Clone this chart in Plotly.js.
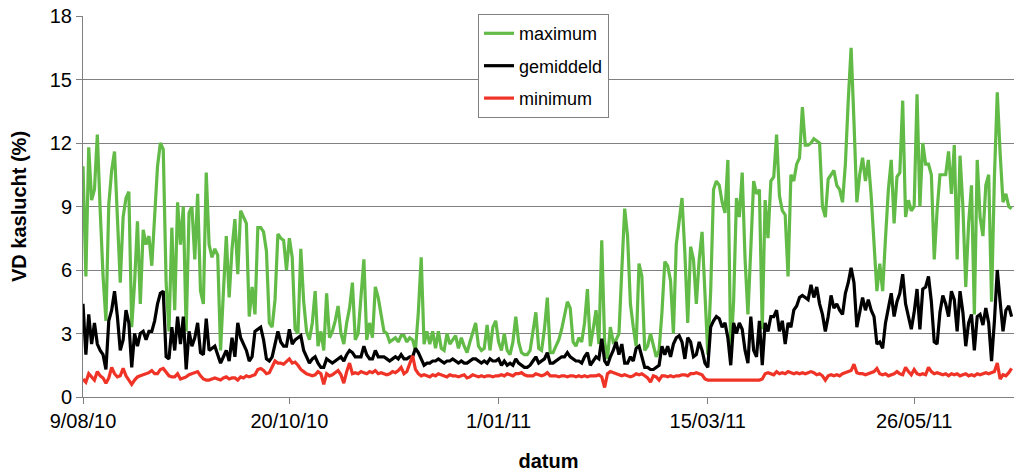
<!DOCTYPE html>
<html>
<head>
<meta charset="utf-8">
<script src="https://cdn.plot.ly/plotly-3.0.1.min.js"></script>
<style>
  html, body { margin: 0; padding: 0; background: #fff; }
  #chart { width: 1014px; height: 472px; }
</style>
</head>
<body>
<div id="chart"></div>
<script>
// ---- data (daily values from 9/08/10) ----
const startDate = [2010, 7, 9]; // year, month index, day

const maximum = [
  10.9,5.7,11.8,9.3,9.8,12.4,8.8,5.7,3.6,9.1,
  10.7,11.6,8.5,5.4,8.5,9.4,9.7,3.3,5.4,8.3,
  4.4,7.9,7.2,7.6,6.2,8.8,10.9,12.0,11.7,5.4,
  3.1,8.0,4.1,9.2,7.2,9.0,3.1,8.7,9.0,6.5,
  9.6,5.0,4.4,10.6,7.2,6.6,7.0,
  6.7,2.2,5.0,7.6,4.7,7.0,8.4,5.8,8.8,8.5,
  8.2,3.8,5.2,3.9,8.0,8.0,7.8,6.9,3.5,3.3,
  4.6,7.7,7.5,7.4,6.0,7.5,6.6,3.2,3.0,7.0,
  4.5,3.1,2.7,3.5,5.0,2.4,3.1,2.2,4.9,2.8,
  3.1,3.6,4.3,3.0,2.5,3.5,
  4.2,5.4,2.7,3.0,4.9,6.5,2.7,3.5,2.8,5.2,
  4.7,3.8,3.1,3.0,2.6,2.7,2.8,2.6,2.9,2.9,
  2.6,2.8,2.7,2.2,4.0,6.6,2.5,3.1,2.5,3.1,
  2.3,3.1,2.3,2.2,3.0,2.5,2.7,2.9,2.3,2.8,
  2.4,2.1,2.6,3.0,3.5,2.4,
  2.2,2.3,3.4,2.2,3.3,3.6,2.6,2.2,3.0,2.2,
  2.0,2.6,3.8,2.6,2.1,2.0,2.0,2.2,3.0,4.0,
  2.3,2.2,3.2,4.7,2.1,2.1,2.4,2.7,3.2,3.8,
  4.5,4.2,2.6,2.4,2.8,2.6,3.5,5.1,2.4,3.2,
  4.1,2.5,7.4,2.6,1.8,3.3,
  2.6,2.7,3.0,6.0,8.9,7.6,4.4,3.3,2.4,6.3,
  5.7,2.2,2.4,3.0,2.5,1.9,2.2,4.0,6.4,6.2,
  5.5,3.0,7.2,8.2,9.4,6.8,3.5,7.1,6.5,4.4,
  6.5,7.8,5.0,2.0,5.0,9.8,10.2,10.0,9.2,8.7,
  11.2,2.0,4.5,9.4,8.5,10.6,6.5,
  3.9,7.0,10.2,9.6,9.8,3.2,9.3,7.5,10.2,10.4,
  12.4,9.5,8.8,8.6,5.7,10.5,10.2,11.0,11.3,13.7,
  11.9,11.9,12.0,12.2,12.1,12.0,9.0,8.5,10.3,10.5,
  10.7,10.0,9.8,9.2,11.0,14.0,16.5,13.0,9.2,10.5,
  11.3,10.2,11.2,9.5,7.5,5.0,
  6.3,5.0,7.5,9.8,11.2,8.2,10.4,10.6,14.0,8.5,
  9.3,8.8,9.0,14.3,9.0,12.0,11.0,11.0,10.5,6.5,
  8.8,10.5,10.5,10.5,11.6,9.6,11.9,6.5,11.4,9.0,
  5.2,8.2,10.0,3.9,11.2,8.5,7.6,10.0,10.5,4.5,
  10.4,14.4,11.5,9.2,9.6,9.0,8.9
];

const gemiddeld = [
  4.4,2.0,3.9,2.5,3.5,2.5,2.2,2.0,1.3,3.6,
  4.1,5.0,3.8,2.2,2.7,4.1,3.5,1.4,3.0,2.4,
  3.0,3.1,2.7,3.1,3.1,3.6,4.4,4.9,5.0,1.9,
  1.8,3.3,2.2,3.8,2.5,3.8,1.3,3.1,2.4,2.8,
  3.5,2.1,2.0,3.7,2.2,2.3,2.4,
  2.0,1.6,1.9,2.2,1.7,2.8,1.9,3.5,2.8,2.5,
  2.2,1.7,1.9,3.1,3.2,3.3,2.7,1.8,1.7,1.9,
  2.5,3.1,2.6,2.4,2.4,3.2,2.5,2.7,2.8,2.9,
  2.2,1.9,1.6,1.8,1.9,1.6,1.4,1.4,1.8,1.7,
  1.6,1.7,1.8,1.9,1.7,2.0,
  2.2,2.1,1.9,1.9,1.9,2.4,2.0,1.8,1.8,2.2,
  1.9,1.9,1.9,1.8,1.7,1.8,1.9,1.8,2.0,1.8,
  1.8,1.9,1.9,2.3,2.1,1.8,1.5,1.6,1.6,1.7,
  1.7,1.8,1.7,1.6,1.7,1.7,1.8,1.7,1.6,1.7,
  1.6,1.6,1.7,1.8,1.8,1.7,
  1.6,1.7,1.6,1.8,1.7,1.7,1.8,1.5,1.7,1.5,
  1.6,1.5,1.8,1.6,1.5,1.4,1.4,1.5,1.7,1.9,
  1.6,1.7,1.8,2.1,1.6,1.6,1.7,1.8,1.9,1.9,
  2.1,1.9,1.8,1.7,1.7,1.6,1.9,2.1,1.5,1.7,
  1.9,1.8,2.75,1.7,1.5,1.9,
  2.2,2.6,2.0,2.5,1.6,1.6,1.9,1.7,2.3,2.4,
  1.9,1.4,1.4,1.3,1.3,1.4,1.5,2.4,2.0,2.4,
  1.9,2.5,2.8,2.9,2.6,1.8,2.8,2.6,1.9,2.0,
  2.6,2.2,1.6,1.4,3.3,3.6,3.8,3.7,3.3,3.5,
  2.8,1.5,3.5,3.0,3.5,3.2,2.2,
  1.6,3.8,2.2,1.9,3.6,1.5,3.5,
  3.1,3.8,3.8,4.1,3.1,3.6,2.5,3.5,3.3,4.1,
  4.3,4.7,4.8,4.7,4.6,5.3,4.7,5.2,4.4,3.9,
  3.1,3.8,4.8,4.2,4.4,4.1,3.9,4.9,5.4,6.1,
  5.4,3.3,4.1,4.7,4.1,4.6,4.1,3.8,2.5,
  2.6,2.3,3.5,4.2,4.9,3.8,4.5,4.9,5.8,4.4,
  3.8,3.2,4.0,5.1,3.2,5.1,5.2,5.7,4.5,2.6,
  2.5,4.0,4.8,4.4,3.8,5.0,4.6,3.1,5.0,4.0,
  2.4,3.5,3.9,2.2,3.8,3.9,3.4,4.2,3.5,1.7,
  3.6,6.0,4.5,3.1,4.1,4.3,3.8
];

const minimum = [
  0.85,0.7,1.1,0.95,0.8,1.2,1.0,0.9,0.65,0.9,
  1.4,1.1,0.95,1.0,1.35,1.0,0.8,0.6,0.8,0.95,
  1.0,1.05,1.1,1.15,1.25,1.1,1.1,1.3,1.35,1.2,
  1.0,0.95,0.95,1.1,0.85,0.9,0.95,1.05,1.1,1.15,
  1.2,1.0,0.85,0.8,0.8,0.85,0.9,
  0.85,0.8,0.9,0.95,0.85,0.9,0.9,0.8,0.95,0.9,
  1.0,0.95,1.0,1.05,1.3,1.35,1.25,1.1,1.15,1.4,
  1.7,1.6,1.6,1.55,1.7,1.8,1.6,1.65,1.5,1.3,
  1.2,1.1,1.05,1.0,1.05,1.2,1.1,0.6,1.1,1.0,
  1.05,1.15,1.25,1.05,0.65,1.2,
  1.6,1.1,1.15,1.1,1.2,1.15,1.1,1.2,1.15,1.25,
  1.1,1.15,1.1,1.05,1.1,1.2,1.15,1.25,1.4,1.1,
  1.2,1.55,1.95,1.3,1.1,1.0,1.05,1.0,0.95,1.05,
  1.0,1.1,1.05,1.0,0.95,1.05,1.0,1.0,0.95,1.0,
  1.05,0.9,0.95,1.05,1.0,0.95,
  1.0,0.95,1.0,1.0,0.95,1.0,1.0,1.05,1.0,1.1,
  1.05,1.0,1.1,1.1,1.15,1.05,1.0,1.0,1.0,1.1,
  1.05,1.0,1.05,1.15,1.0,1.0,1.0,0.95,1.0,1.0,
  0.95,1.0,1.0,0.95,1.0,0.95,1.0,0.95,1.0,1.0,
  1.0,1.05,0.95,0.45,1.1,1.2,
  1.15,1.1,1.05,1.0,1.05,1.0,0.95,1.0,1.1,1.05,
  1.1,1.0,0.9,0.7,1.0,0.95,0.8,1.0,1.0,0.95,
  1.0,0.95,1.0,1.0,1.05,1.05,1.0,1.1,1.1,1.15,
  1.1,1.05,0.85,0.8,0.8,0.8,0.8,0.8,0.8,0.8,
  0.8,0.8,0.8,0.8,0.8,0.8,0.8,
  0.8,0.8,0.8,0.8,0.8,0.85,
  1.1,1.15,1.1,1.05,1.2,1.1,1.15,1.1,1.2,1.15,
  1.1,1.15,1.1,1.15,1.1,1.15,1.2,1.15,1.05,1.1,
  1.0,0.8,1.0,1.05,1.0,1.05,1.0,1.1,1.15,1.2,
  1.25,1.55,1.15,1.1,1.1,1.05,1.1,1.15,1.2,1.35,
  1.1,1.05,1.1,1.0,1.05,1.1,1.2,1.1,1.05,1.4,
  1.2,1.05,1.3,1.1,1.05,1.1,1.05,1.4,1.2,1.1,
  1.15,1.1,1.05,1.1,1.0,1.1,1.05,1.1,1.0,1.05,
  1.1,1.0,1.05,1.0,1.1,1.05,1.1,1.15,1.1,1.15,
  1.2,1.6,0.85,1.05,1.0,1.15,1.35
];

const tickDates = ['2010-08-09','2010-10-20','2011-01-01','2011-03-15','2011-05-26'];
const tickLabels = ['9/08/10','20/10/10','1/01/11','15/03/11','26/05/11'];
const yTicks = [0,3,6,9,12,15,18];

// ---- build date axis ----
function dayToDate(i) {
  const d = new Date(Date.UTC(startDate[0], startDate[1], startDate[2] + i));
  return d.toISOString().slice(0, 10);
}
const dates = maximum.map((_, i) => dayToDate(i));

const FONT = 'Liberation Sans, Arial, sans-serif';

const traces = [
  { name: 'maximum', y: maximum, color: '#62BB46', group: 'a' },
  { name: 'gemiddeld', y: gemiddeld, color: '#000000', group: 'b' },
  { name: 'minimum', y: minimum, color: '#EF3326', group: 'c' }
].map(s => ({
  type: 'scatter',
  mode: 'lines',
  name: s.name,
  x: dates,
  y: s.y,
  legendgroup: s.group,
  line: { color: s.color, width: 3.2 },
  cliponaxis: true
}));

const layout = {
  width: 1014,
  height: 472,
  margin: { l: 83, r: 0, t: 16, b: 75 },
  paper_bgcolor: '#ffffff',
  plot_bgcolor: '#ffffff',
  font: { family: FONT, size: 20, color: '#000' },
  showlegend: true,
  legend: {
    x: 0.4243, y: 1.005, xanchor: 'left', yanchor: 'top',
    bgcolor: '#ffffff', bordercolor: '#808080', borderwidth: 1,
    font: { family: FONT, size: 18, color: '#000' },
    traceorder: 'grouped',
    tracegroupgap: 6
  },
  xaxis: {
    type: 'date',
    range: ['2010-08-09', '2011-06-29 20:00'],
    tickmode: 'array',
    tickvals: tickDates,
    ticktext: tickLabels,
    ticks: 'outside', ticklen: 6, tickcolor: '#808080', tickwidth: 1,
    showline: true, linecolor: '#808080', linewidth: 1,
    showgrid: false, zeroline: false,
    tickfont: { family: FONT, size: 20, color: '#000' },
    title: { text: '<b>datum</b>', font: { family: FONT, size: 20, color: '#000' }, standoff: 23 }
  },
  yaxis: {
    range: [0, 18],
    tickmode: 'array',
    tickvals: yTicks,
    ticks: 'outside', ticklen: 6, tickcolor: '#808080', tickwidth: 1,
    showline: true, linecolor: '#808080', linewidth: 1,
    showgrid: true, gridcolor: '#808080', gridwidth: 1,
    zeroline: false,
    tickfont: { family: FONT, size: 20, color: '#000' },
    title: { text: '<b>VD kaslucht (%)</b>', font: { family: FONT, size: 20, color: '#000' }, standoff: 17 }
  }
};

Plotly.newPlot('chart', traces, layout, { displayModeBar: false, staticPlot: true });
</script>
</body>
</html>
